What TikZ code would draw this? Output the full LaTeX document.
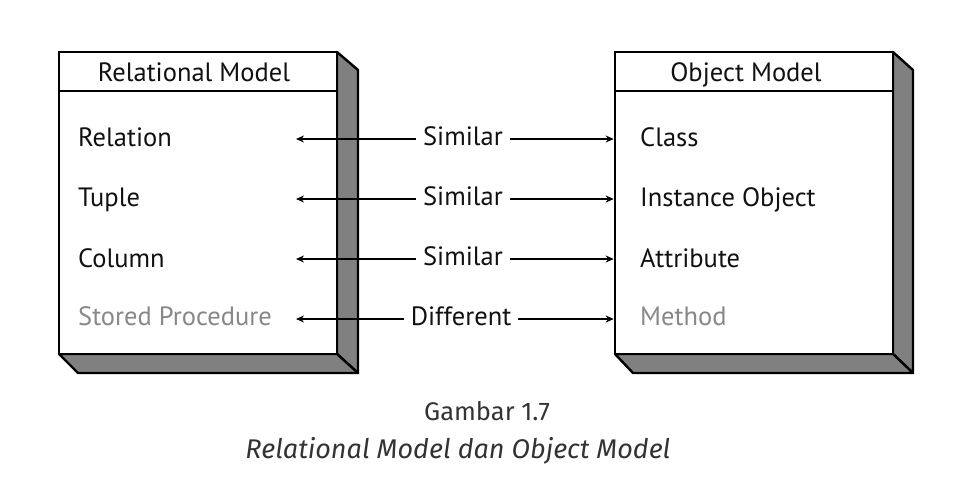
\documentclass[tikz,border=0pt]{standalone}
\usepackage{fontspec}
\setmainfont{PT Sans}
\newfontfamily\capfont{Fira Sans}
\usetikzlibrary{arrows.meta}
\definecolor{sidegray}{HTML}{808080}
\definecolor{txtgray}{HTML}{888888}
\definecolor{txtblack}{HTML}{111111}
\definecolor{capgray}{HTML}{333333}
\tikzset{
  front/.style={draw=black, line width=2.6pt, fill=white, inner sep=0pt},
  side/.style={draw=black, line width=2.4pt, fill=sidegray, line join=round},
  item/.style={anchor=base west, inner sep=0pt, font=\fontsize{26.5}{30}\selectfont, text=txtblack},
  grayitem/.style={item, text=txtgray},
  head/.style={anchor=base, inner sep=0pt, font=\fontsize{26.5}{30}\selectfont, text=txtblack},
  lab/.style={inner xsep=7pt, inner ysep=0pt, text height=13pt, text depth=0pt, font=\fontsize{26.5}{30}\selectfont, text=txtblack},
  arr/.style={line width=1.8pt, -{Stealth[length=8pt,width=7pt]}},
  captext/.style={inner sep=0pt, anchor=base, font=\capfont\fontsize{25.5}{30}\selectfont, text=capgray}
}
\begin{document}
\begin{tikzpicture}[x=1pt,y=-1pt]
\useasboundingbox (0,0) rectangle (974,499);
% left box
\path[side] (337,52) -- (358,70) -- (358,373) -- (337,354) -- cycle;
\path[side] (59,354) -- (337,354) -- (358,373) -- (78,373) -- cycle;
\node[front, minimum width=278pt, minimum height=302pt] (lbox) at (198,203) {};
\draw[line width=2.6pt] (59,91) -- (337,91);
% right box
\path[side] (893,52) -- (913,70) -- (913,373) -- (893,354) -- cycle;
\path[side] (615,354) -- (893,354) -- (913,373) -- (633,373) -- cycle;
\node[front, minimum width=278pt, minimum height=302pt] (rbox) at (754,203) {};
\draw[line width=2.6pt] (615,91) -- (893,91);
% headers
\node[head] (lh) at (194,81) {Relational Model};
\node[head] (rh) at (746,81) {Object Model};
% left items
\node[item] (l1) at (78,146) {Relation};
\node[item] (l2) at (78,206) {Tuple};
\node[item] (l3) at (78,267) {Column};
\node[grayitem] (l4) at (78,325) {Stored Procedure};
% right items
\node[item] (r1) at (640,146) {Class};
\node[item] (r2) at (640,206) {Instance Object};
\node[item] (r3) at (640,267) {Attribute};
\node[grayitem] (r4) at (640,325) {Method};
% arrow ends
\coordinate (e1) at (296,139);
\coordinate (e2) at (296,199);
\coordinate (e3) at (296,259);
\coordinate (e4) at (296,319);
% labels
\node[lab] (s1) at (463,139) {Similar};
\node[lab] (s2) at (463,199) {Similar};
\node[lab] (s3) at (463,259) {Similar};
\node[lab] (s4) at (461,319) {Different};
\foreach \i in {1,2,3,4}{
  \draw[arr] (s\i.west) -- (e\i);
  \draw[arr] (s\i.east) -- (s\i.east -| rbox.west);
}
% caption
\node[captext] (c1) at (487,420) {Gambar 1.7};
\node[captext, font=\capfont\itshape\fontsize{27}{30}\selectfont] (c2) at (458,458) {Relational Model dan Object Model};
\end{tikzpicture}
\end{document}
